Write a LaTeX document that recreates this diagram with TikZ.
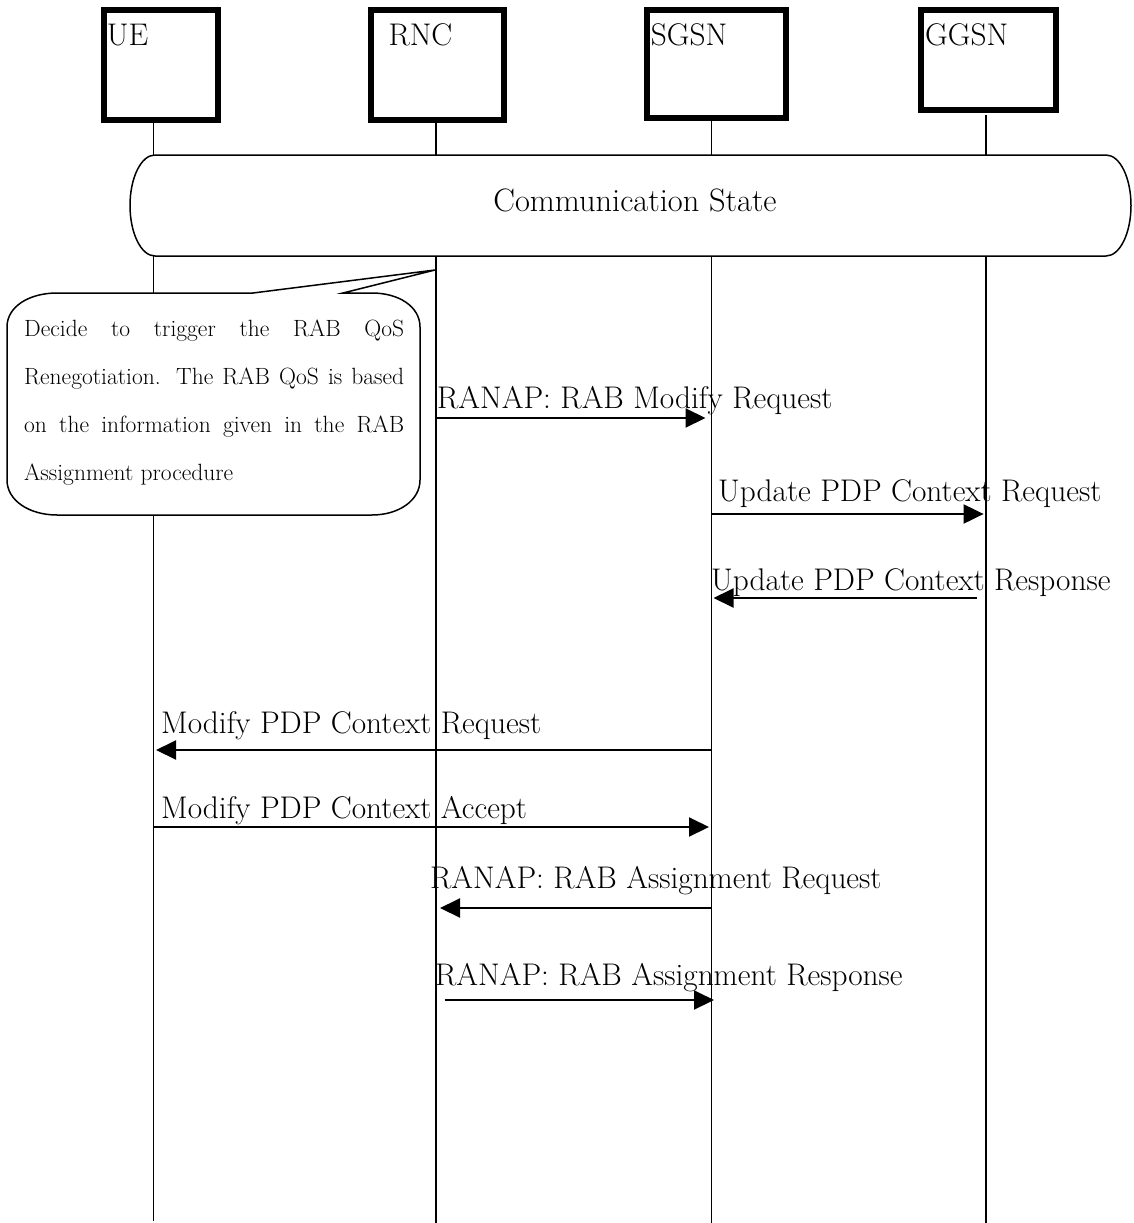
\documentclass[tikz,border=0pt]{standalone}
\usepackage{fontspec}
\usetikzlibrary{arrows.meta}
\begin{document}
\begin{tikzpicture}[x=1pt,y=-1pt,
  ent/.style={draw, line width=6pt, inner sep=0pt},
  life/.style={line width=1.2pt},
  msg/.style={line width=2pt, -{Triangle[length=20pt,width=19pt]}},
  lbl/.style={font=\fontsize{31.3}{36}\selectfont, inner sep=0pt, anchor=base west},
  small/.style={font=\fontsize{23.5}{48}\selectfont, inner sep=0pt, anchor=base west},
  outlineshape/.style={draw, line width=1.5pt, fill=white, line join=miter}]
\useasboundingbox (0,0) rectangle (1133,1223);

% entity boxes
\node[ent, minimum width=114pt, minimum height=110pt] (ue) at (160.7,64.7) {};
\node[ent, minimum width=132.4pt, minimum height=110.6pt] (rnc) at (437.5,65) {};
\node[ent, minimum width=138.7pt, minimum height=108pt] (sgsn) at (716.65,63.7) {};
\node[ent, minimum width=134.7pt, minimum height=100pt] (ggsn) at (988.65,59.7) {};
\node[lbl] (ueT) at (106.7,45.7) {UE};
\node[lbl] (rncT) at (388.3,45.7) {RNC};
\node[lbl] (sgsnT) at (650.7,45.7) {SGSN};
\node[lbl] (ggsnT) at (925,45.7) {GGSN};

% lifeline x positions
\coordinate (ueL) at (153.3,0);
\coordinate (rncL) at (436,0);
\coordinate (sgsnL) at (711.5,0);
\coordinate (ggsnL) at (986,0);

\draw[life] (ue.south -| ueL) -- (ueL |- 0,1221);
\draw[life] (rnc.south -| rncL) -- (rncL |- 0,1223);
\draw[life] (sgsn.south -| sgsnL) -- (sgsnL |- 0,1223);
\draw[life] (ggsnL |- 0,115) -- (ggsnL |- 0,1223);

% communication state
\draw[outlineshape] (155,155) -- (1106,155)
  .. controls (1120,155) and (1131,178) .. (1131,205.5)
  .. controls (1131,233) and (1120,256) .. (1106,256)
  -- (155,256)
  .. controls (141,256) and (130,233) .. (130,205.5)
  .. controls (130,178) and (141,155) .. (155,155) -- cycle;
\node[lbl, anchor=base, font=\fontsize{32.4}{36}\selectfont] (cs) at (635,211) {Communication State};

% callout
\draw[outlineshape] (57,293) -- (253,293) -- (435,270) -- (343,293) -- (372,293)
  .. controls (398.5,293) and (420,306.4) .. (420,327)
  -- (420,480)
  .. controls (420,500.6) and (398.5,515) .. (372,515)
  -- (57,515)
  .. controls (29.4,515) and (7,500.6) .. (7,480)
  -- (7,327)
  .. controls (7,306.4) and (29.4,293) .. (57,293) -- cycle;
\node[small] (c1) at (24,336) {\makebox[380pt][s]{Decide to trigger the RAB QoS}};
\node[small] (c2) at (24,384) {\makebox[380pt][s]{Renegotiation. The RAB QoS is based}};
\node[small] (c3) at (24,432) {\makebox[380pt][s]{on the information given in the RAB}};
\node[small] (c4) at (24,480) {Assignment procedure};

% messages
\draw[msg, shorten >=6pt] (rncL |- 0,418) -- (sgsnL |- 0,418);
\node[lbl] (m1) at (437,408) {RANAP: RAB Modify Request};

\draw[msg, shorten >=2.4pt] (sgsnL |- 0,514) -- (ggsnL |- 0,514);
\node[lbl] (m2) at (718,501) {Update PDP Context Request};

\draw[msg, shorten <=9pt, shorten >=2pt] (ggsnL |- 0,598) -- (sgsnL |- 0,598);
\node[lbl] (m3) at (711,590) {Update PDP Context Response};

\draw[msg, shorten >=2.7pt] (sgsnL |- 0,750) -- (ueL |- 0,750);
\node[lbl] (m4) at (161,733) {Modify PDP Context Request};

\draw[msg, shorten >=2.5pt] (ueL |- 0,827) -- (sgsnL |- 0,827);
\node[lbl] (m5) at (161,818) {Modify PDP Context Accept};

\draw[msg, shorten >=4pt] (sgsnL |- 0,908) -- (rncL |- 0,908);
\node[lbl] (m6) at (430,888) {RANAP: RAB Assignment Request};

\draw[msg, shorten <=8.5pt, shorten >=-2.5pt] (rncL |- 0,1000) -- (sgsnL |- 0,1000);
\node[lbl] (m7) at (435,985) {RANAP: RAB Assignment Response};
\end{tikzpicture}
\end{document}
